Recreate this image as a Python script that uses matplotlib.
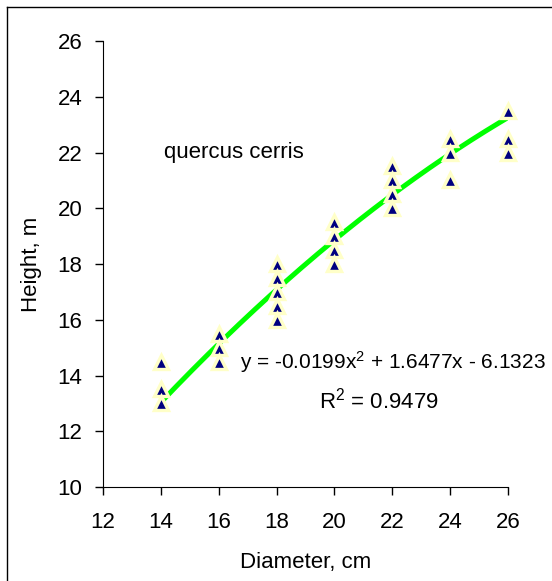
import matplotlib
matplotlib.use("Agg")
import matplotlib.pyplot as plt
from matplotlib.lines import Line2D
import numpy as np

plt.rcParams['font.family'] = ['Liberation Sans', 'DejaVu Sans']
plt.rcParams['mathtext.fontset'] = 'custom'
plt.rcParams['mathtext.rm'] = 'Liberation Sans'

# measured diameters (cm) and heights (m)
diameter = [14, 14, 14,
            16, 16, 16,
            18, 18, 18, 18, 18,
            20, 20, 20, 20,
            22, 22, 22, 22,
            24, 24, 24,
            26, 26, 26]
height = [14.5, 13.5, 13.0,
          15.5, 15.0, 14.5,
          18.0, 17.5, 17.0, 16.5, 16.0,
          19.5, 19.0, 18.5, 18.0,
          21.5, 21.0, 20.5, 20.0,
          22.5, 22.0, 21.0,
          23.5, 22.5, 22.0]

# trendline coefficients as printed on the chart
trend_coef = [-0.0199, 1.6477, -6.1323]
r_squared = 0.9479
species = "quercus cerris"

xticks = [12, 14, 16, 18, 20, 22, 24, 26]
yticks = [10, 12, 14, 16, 18, 20, 22, 24, 26]

fig = plt.figure(figsize=(5.52, 5.81), dpi=100)
ax = fig.add_axes([0.1866, 0.1618, 0.7337, 0.7676])

xs = np.linspace(min(diameter), max(diameter), 200)
ax.plot(xs, np.polyval(trend_coef, xs), color='#00FF00', lw=3.6, zorder=2,
        solid_capstyle='butt')
ax.plot(diameter, height, linestyle='none', marker='^', markersize=9.5,
        markerfacecolor='#000080', markeredgecolor='#FFFFC8',
        markeredgewidth=2.4, clip_on=False, zorder=3)

ax.set_xlim(12, 26)
ax.set_ylim(10, 26)
ax.set_xticks(xticks)
ax.set_yticks(yticks)
ax.tick_params(direction='out', length=6, width=1, labelsize=16)
ax.tick_params(axis='x', pad=12)
ax.tick_params(axis='y', pad=9)
for s in ['top', 'right']:
    ax.spines[s].set_visible(False)

ax.set_xlabel("Diameter, cm", fontsize=16, labelpad=14)
ax.set_ylabel("Height, m", fontsize=16, labelpad=11)

ax.text(14.1, 22.0, species, fontsize=16, ha='left', va='center')
eq = "y = %.4f$\\mathregular{x^2}$ + %.4fx - %.4f" % (trend_coef[0], trend_coef[1], -trend_coef[2])
ax.text(27.3, 14.5, eq, fontsize=15, ha='right', va='center')
ax.text(21.55, 13.1, "R$\\mathregular{^2}$ = %.4f" % r_squared, fontsize=16,
        ha='center', va='center')

# outer frame (left and top edges visible)
fig.add_artist(Line2D([7 / 552, 7 / 552], [0, 1 - 7 / 581], color='black', lw=1,
                      transform=fig.transFigure))
fig.add_artist(Line2D([7 / 552, 1], [1 - 7 / 581, 1 - 7 / 581], color='black', lw=1,
                      transform=fig.transFigure))

fig.savefig("out.png", dpi=100)
